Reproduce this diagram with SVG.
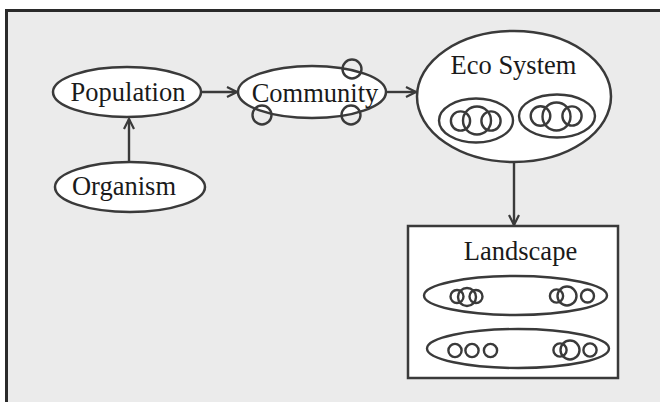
<svg xmlns="http://www.w3.org/2000/svg" width="660" height="402" viewBox="0 0 660 402">
<style>
.shape{fill:#fff;stroke:#3a3a3a;stroke-width:2.5}
.ring{fill:none;stroke:#3a3a3a;stroke-width:2.4}
.lbl{font-family:"Liberation Serif","Times New Roman",serif;font-size:26.5px;fill:#1a1a1a;text-anchor:middle}
.conn{fill:none;stroke:#3a3a3a;stroke-width:2.4}
</style>
<defs>
<marker id="arr" viewBox="0 0 12 12" refX="11" refY="6" markerWidth="12" markerHeight="12" markerUnits="userSpaceOnUse" orient="auto">
<path d="M1,1 L11,6 L1,11" fill="none" stroke="#3a3a3a" stroke-width="2.2"/>
</marker>
</defs>
<rect x="0" y="0" width="660" height="402" fill="#fff"/>
<rect x="6.5" y="10.5" width="660" height="400" fill="#ebebeb" stroke="#2a2a2a" stroke-width="3"/>
<g id="connectors">
<line class="conn" x1="202" y1="92" x2="237" y2="92" marker-end="url(#arr)"/>
<line class="conn" x1="387" y1="92" x2="416" y2="92" marker-end="url(#arr)"/>
<line class="conn" x1="129" y1="162" x2="129" y2="119" marker-end="url(#arr)"/>
<line class="conn" x1="514" y1="162" x2="514" y2="225" marker-end="url(#arr)"/>
</g>
<g id="population">
<ellipse class="shape" cx="127" cy="92" rx="74" ry="25"/>
<text class="lbl" x="128" y="101">Population</text>
</g>
<g id="organism">
<ellipse class="shape" cx="130" cy="187" rx="75" ry="25"/>
<text class="lbl" x="124" y="195">Organism</text>
</g>
<g id="community">
<ellipse class="shape" cx="312" cy="92" rx="74" ry="26"/>
<text class="lbl" x="315" y="102">Community</text>
<circle class="ring" cx="352" cy="69" r="9.5"/>
<circle class="ring" cx="262" cy="115" r="9.5"/>
<circle class="ring" cx="351" cy="115" r="9.5"/>
</g>
<g id="ecosystem">
<ellipse class="shape" cx="514" cy="96.5" rx="97" ry="65.5"/>
<text class="lbl" x="513.5" y="74">Eco System</text>
<ellipse class="ring" cx="476" cy="120.5" rx="37" ry="22"/>
<circle class="ring" cx="460.5" cy="121" r="9.6"/>
<circle class="ring" cx="477" cy="120.5" r="14"/>
<circle class="ring" cx="491" cy="121" r="9.6"/>
<ellipse class="ring" cx="557" cy="116" rx="38" ry="21.5"/>
<circle class="ring" cx="540.5" cy="116" r="9.8"/>
<circle class="ring" cx="556.5" cy="116.5" r="14"/>
<circle class="ring" cx="572" cy="116" r="9.6"/>
</g>
<g id="landscape">
<rect class="shape" x="408" y="226" width="210" height="152" stroke-width="2.8"/>
<text class="lbl" x="520.5" y="260">Landscape</text>
<ellipse class="ring" cx="515.5" cy="295.5" rx="91.5" ry="19.5"/>
<circle class="ring" cx="457" cy="296.5" r="6.5"/>
<circle class="ring" cx="467" cy="297" r="9"/>
<circle class="ring" cx="476" cy="296.5" r="6.5"/>
<circle class="ring" cx="556.5" cy="296" r="6.6"/>
<circle class="ring" cx="567" cy="296" r="9.5"/>
<circle class="ring" cx="587.5" cy="296" r="6.5"/>
<ellipse class="ring" cx="518" cy="348.5" rx="91" ry="19.5"/>
<circle class="ring" cx="455" cy="350.5" r="6.6"/>
<circle class="ring" cx="472" cy="350.5" r="6.6"/>
<circle class="ring" cx="490.5" cy="350.5" r="6.6"/>
<circle class="ring" cx="560" cy="350" r="6.6"/>
<circle class="ring" cx="570" cy="350" r="9.5"/>
<circle class="ring" cx="590" cy="350" r="6.6"/>
</g>
</svg>
